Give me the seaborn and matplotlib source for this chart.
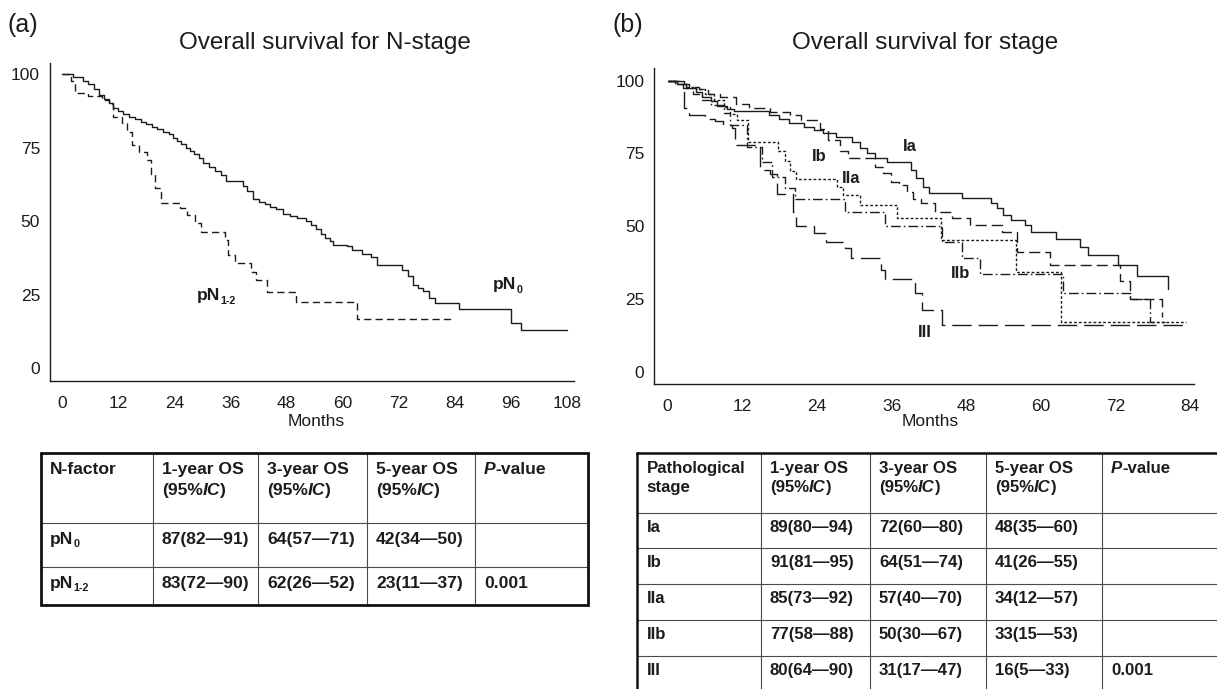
import matplotlib
matplotlib.use("Agg")
import matplotlib.pyplot as plt
import pandas as pd
import seaborn as sns

# ---------------- data ----------------
title_a = "Overall survival for N-stage"
title_b = "Overall survival for stage"
panel_tags = ["(a)", "(b)"]
x_label = "Months"
xticks_a = [0, 12, 24, 36, 48, 60, 72, 84, 96, 108]
xticks_b = [0, 12, 24, 36, 48, 60, 72, 84]
yticks = [0, 25, 50, 75, 100]

# Kaplan-Meier steps: (month, survival %)
pN0 = [(0, 100), (2.4, 98.9), (4.5, 97.7), (5.5, 96.5), (6.9, 94.8), (8.0, 93.0), (9.0, 91.5),
       (10.0, 90.0), (11.0, 88.6), (12.0, 87.3), (13.0, 86.4), (14.3, 85.5), (15.5, 84.7),
       (16.8, 83.8), (18.0, 83.0), (19.2, 82.1), (20.4, 81.3), (21.6, 80.4), (22.9, 79.5),
       (23.7, 78.4), (24.5, 77.3), (25.5, 76.1), (26.5, 75.0), (27.3, 73.9), (28.2, 72.7),
       (29.2, 71.3), (30.2, 69.9), (31.5, 68.5), (32.7, 67.0), (33.9, 65.7), (35.1, 63.8),
       (38.6, 61.8), (39.6, 60.2), (40.8, 57.4), (42.0, 56.5), (43.3, 55.7), (44.5, 54.8),
       (45.7, 54.0), (47.3, 52.3), (48.7, 51.7), (50.2, 51.1), (52.2, 50.0), (53.3, 48.6),
       (54.3, 47.2), (55.3, 45.7), (56.3, 44.3), (57.2, 43.2), (58.0, 42.0), (60.8, 41.5),
       (62.0, 40.1), (64.0, 39.0), (66.1, 37.8), (67.3, 35.2), (72.6, 33.5), (73.9, 31.3),
       (75.1, 28.4), (76.0, 27.2), (77.1, 26.1), (78.5, 24.0), (79.6, 22.2), (84.9, 20.1),
       (95.9, 15.3), (98.0, 13.1), (108.0, 13.1)]
pN12 = [(0, 100), (1.9, 97.5), (2.8, 93.6), (5.5, 92.5), (8.5, 91.0), (10.0, 89.8), (11.0, 85.5),
        (12.9, 83.2), (13.9, 80.4), (15.0, 75.9), (16.5, 73.6), (18.1, 70.8), (19.0, 66.0),
        (19.9, 61.2), (21.1, 56.3), (25.2, 54.4), (26.8, 52.1), (28.5, 49.3), (29.7, 46.2),
        (34.8, 43.6), (35.4, 38.5), (37.0, 35.9), (40.3, 32.8), (41.4, 30.0), (43.8, 26.0),
        (50.0, 22.6), (63.0, 16.6), (83.2, 16.6)]

st_Ia = [(0, 100), (1.5, 98.8), (3.0, 97.5), (4.5, 96.0), (5.5, 94.5), (7.0, 93.0), (8.0, 91.3),
         (9.5, 90.3), (10.7, 89.5), (16.3, 88.2), (17.9, 87.0), (19.5, 85.6), (22.0, 84.2),
         (23.6, 83.0), (24.9, 81.9), (27.0, 80.8), (29.6, 79.0), (30.9, 76.7), (32.1, 75.0),
         (33.4, 73.3), (35.3, 71.9), (39.1, 69.3), (40.0, 66.4), (41.0, 63.6), (42.0, 61.3),
         (47.3, 59.6), (52.0, 57.8), (53.0, 56.1), (54.0, 53.8), (55.2, 52.1), (57.4, 50.4),
         (58.4, 48.1), (62.5, 45.5), (66.3, 42.7), (67.6, 40.1), (72.4, 36.7), (75.4, 32.9),
         (80.5, 28.4)]
st_Ib = [(0, 100), (2.2, 99.0), (3.5, 98.0), (5.0, 97.0), (6.5, 95.5), (8.4, 94.5), (11.0, 92.0),
         (13.0, 90.5), (16.5, 89.3), (19.7, 88.2), (21.5, 86.5), (24.5, 83.5), (25.8, 79.5),
         (27.7, 76.0), (29.0, 73.5), (33.4, 70.5), (34.7, 68.2), (35.9, 65.3), (37.2, 64.1),
         (38.5, 61.9), (39.4, 59.3), (40.8, 57.9), (43.0, 55.0), (45.7, 52.7), (48.6, 50.4),
         (53.7, 48.0), (56.1, 41.2), (61.5, 36.7), (72.7, 31.2), (74.4, 24.9), (79.5, 18.9)]
st_IIa = [(0, 100), (1.5, 99.0), (3.0, 98.0), (4.5, 97.0), (6.0, 95.5), (7.5, 93.5), (9.0, 91.0),
          (10.0, 88.5), (11.1, 86.5), (12.9, 79.0), (17.8, 76.0), (18.8, 72.5), (19.7, 69.0),
          (20.7, 66.2), (27.2, 63.6), (28.2, 60.7), (30.9, 57.3), (36.9, 52.7), (44.0, 45.3),
          (56.0, 34.4), (63.2, 17.2), (83.4, 17.2)]
st_IIb = [(0, 100), (1.2, 98.8), (2.5, 97.5), (4.0, 95.5), (5.5, 93.5), (7.0, 91.5), (9.0, 89.0),
          (10.0, 84.9), (12.7, 77.3), (15.2, 72.0), (16.8, 67.0), (18.8, 63.0), (20.5, 59.3),
          (28.5, 55.0), (35.0, 50.0), (44.1, 44.7), (47.3, 39.0), (50.2, 33.6), (63.6, 26.9),
          (74.3, 25.0), (77.5, 17.2), (80.0, 17.2)]
st_III = [(0, 100), (2.7, 90.5), (3.5, 88.2), (6.0, 87.0), (7.6, 86.0), (8.9, 84.8), (10.3, 83.6),
          (10.8, 77.9), (14.8, 69.4), (16.5, 68.0), (17.6, 61.0), (20.1, 55.0), (20.7, 50.0),
          (23.6, 47.5), (25.5, 44.7), (28.5, 42.4), (29.5, 38.9), (34.3, 34.9), (35.0, 32.0),
          (39.7, 26.9), (40.9, 21.2), (44.1, 16.0), (83.4, 16.0)]

# table contents
tab_a_header = [[[("N-factor", "b")]],
                [[("1-year OS", "b")], [("(95%", "b"), ("IC", "i"), (")", "b")]],
                [[("3-year OS", "b")], [("(95%", "b"), ("IC", "i"), (")", "b")]],
                [[("5-year OS", "b")], [("(95%", "b"), ("IC", "i"), (")", "b")]],
                [[("P", "i"), ("-value", "b")]]]
tab_a_rows = [[[("pN", "b"), ("0", "sub")], "87(82\u201491)", "64(57\u201471)", "42(34\u201450)", ""],
              [[("pN", "b"), ("1-2", "sub")], "83(72\u201490)", "62(26\u201452)", "23(11\u201437)", "0.001"]]
tab_b_header = [[[("Pathological", "b")], [("stage", "b")]],
                [[("1-year OS", "b")], [("(95%", "b"), ("IC", "i"), (")", "b")]],
                [[("3-year OS", "b")], [("(95%", "b"), ("IC", "i"), (")", "b")]],
                [[("5-year OS", "b")], [("(95%", "b"), ("IC", "i"), (")", "b")]],
                [[("P", "i"), ("-value", "b")]]]
tab_b_rows = [["Ia", "89(80\u201494)", "72(60\u201480)", "48(35\u201460)", ""],
              ["Ib", "91(81\u201495)", "64(51\u201474)", "41(26\u201455)", ""],
              ["IIa", "85(73\u201492)", "57(40\u201470)", "34(12\u201457)", ""],
              ["IIb", "77(58\u201488)", "50(30\u201467)", "33(15\u201453)", ""],
              ["III", "80(64\u201490)", "31(17\u201447)", "16(5\u201433)", "0.001"]]

# ---------------- style ----------------
sns.set_style("white")
plt.rcParams["font.family"] = ["Liberation Sans", "DejaVu Sans"]
INK = "#1c1c1c"
W, H = 1217, 689
fig = plt.figure(figsize=(W / 100, H / 100), dpi=100)
fig.patch.set_facecolor("white")


def px_axes(left, top, right, bottom):
    return fig.add_axes([left / W, 1 - bottom / H, (right - left) / W, (bottom - top) / H])


axA = px_axes(49.8, 63, 574, 381)
axB = px_axes(654, 68.3, 1194, 384)


def km(ax, pairs, ls):
    df = pd.DataFrame(pairs, columns=["month", "surv"])
    sns.lineplot(data=df, x="month", y="surv", ax=ax, estimator=None, sort=False,
                 drawstyle="steps-post", color=INK, linewidth=1.0, linestyle=ls)


km(axA, pN0, "-")
km(axA, pN12, (0, (5.2, 3.0)))
km(axB, st_Ia, "-")
km(axB, st_Ib, (0, (8.0, 3.6)))
km(axB, st_IIa, (0, (2.0, 1.5)))
km(axB, st_IIb, (0, (7.0, 2.2, 1.2, 2.2)))
km(axB, st_III, (0, (14.0, 5.0)))

for ax, xt, xl, yl in [(axA, xticks_a, (-2.61, 109.4), (-4.32, 103.74)),
                       (axB, xticks_b, (-2.2, 84.64), (-4.23, 104.26))]:
    ax.set_xlim(*xl)
    ax.set_ylim(*yl)
    ax.set_xticks(xt)
    ax.set_yticks(yticks)
    ax.set_xlabel("")
    ax.set_ylabel("")
    ax.set_facecolor("none")
    for s in ["top", "right"]:
        ax.spines[s].set_visible(False)
    for s in ["left", "bottom"]:
        ax.spines[s].set_color(INK)
        ax.spines[s].set_linewidth(1.0)
    ax.tick_params(axis="both", direction="out", length=5, width=0.9, color=INK,
                   labelsize=12.5, labelcolor=INK)
    ax.tick_params(axis="y", pad=2)
    ax.tick_params(axis="x", pad=5.5)

# overlay in pixel coordinates
ov = fig.add_axes([0, 0, 1, 1])
ov.set_xlim(0, W)
ov.set_ylim(H, 0)
ov.axis("off")
ov.patch.set_alpha(0)
renderer = fig.canvas.get_renderer()


def base_of(yc, size):
    return yc + 0.358 * size * 100 / 72


def rich(x, yc, pieces, size, bold=True):
    yb = base_of(yc, size)
    for s, kind in pieces:
        kw = dict(fontsize=size, fontweight="bold" if bold else "normal", va="baseline",
                  ha="left", color=INK)
        dy = 0
        if kind == "i":
            kw["fontstyle"] = "italic"
        if kind == "sub":
            kw["fontsize"] = size * 0.62
            dy = size * 100 / 72 * 0.2
        t = ov.text(x, yb + dy, s, **kw)
        x += t.get_window_extent(renderer).width


# titles / tags / axis labels
ov.text(325, 43, title_a, ha="center", va="center", fontsize=17.5, color=INK)
ov.text(925.6, 43, title_b, ha="center", va="center", fontsize=17.5, color=INK)
ov.text(23, 25, panel_tags[0], ha="center", va="center", fontsize=18, color=INK)
ov.text(627.5, 25, panel_tags[1], ha="center", va="center", fontsize=18, color=INK)
ov.text(316, 422, x_label, ha="center", va="center", fontsize=12.5, color=INK)
ov.text(930.6, 422, x_label, ha="center", va="center", fontsize=12.5, color=INK)

# curve labels (data coordinates)
def label_px(ax, mx, sv):
    disp = ax.transData.transform((mx, sv))
    return disp[0], H - disp[1]

xa, ya = label_px(axA, 92.1, 29.0)
rich(xa, ya, [("pN", "b"), ("0", "sub")], 12.5)
xa, ya = label_px(axA, 28.8, 25.2)
rich(xa, ya, [("pN", "b"), ("1-2", "sub")], 12.5)

stage_names = ["Ia", "Ib", "IIa", "IIb", "III"]
stage_label_pos = [(39.0, 77.3), (24.3, 73.9), (29.5, 66.5), (47.1, 33.8), (41.3, 13.4)]
for name, (mx, sv) in zip(stage_names, stage_label_pos):
    xb, yb = label_px(axB, mx, sv)
    ov.text(xb, yb, name, ha="center", va="center", fontsize=12, fontweight="bold", color=INK)


# tables
def draw_table(xc, yr, header, rows, size, hgap, pad_top, outer_lw):
    for x in xc[1:-1]:
        ov.plot([x, x], [yr[0], yr[-1]], color="#4a4a4a", lw=0.8, solid_capstyle="butt")
    for y in yr[1:-1]:
        ov.plot([xc[0], xc[-1]], [y, y], color="#4a4a4a", lw=0.8, solid_capstyle="butt")
    ov.plot([xc[0], xc[-1], xc[-1], xc[0], xc[0]], [yr[0], yr[0], yr[-1], yr[-1], yr[0]],
            color="#111111", lw=outer_lw, solid_joinstyle="miter")
    for i, cell in enumerate(header):
        for j, line in enumerate(cell):
            rich(xc[i] + 9, yr[0] + 14 + j * hgap, line, size)
    for r, row in enumerate(rows):
        for i, cell in enumerate(row):
            pieces = cell if isinstance(cell, list) else [(cell, "b")]
            if pieces and pieces[0][0]:
                rich(xc[i] + 9, yr[r + 1] + pad_top, pieces, size)


draw_table([41.3, 153, 258, 367, 475, 587.5], [453.3, 523.3, 567.3, 605],
           tab_a_header, tab_a_rows, 12.6, 21, 14, 2.0)
draw_table([637.4, 761, 870, 986, 1102, 1232], [453.3, 512.7, 548.3, 584.3, 620, 656, 705],
           tab_b_header, tab_b_rows, 12.1, 18.5, 13, 1.8)

fig.savefig("out.png", dpi=100, facecolor="white")
